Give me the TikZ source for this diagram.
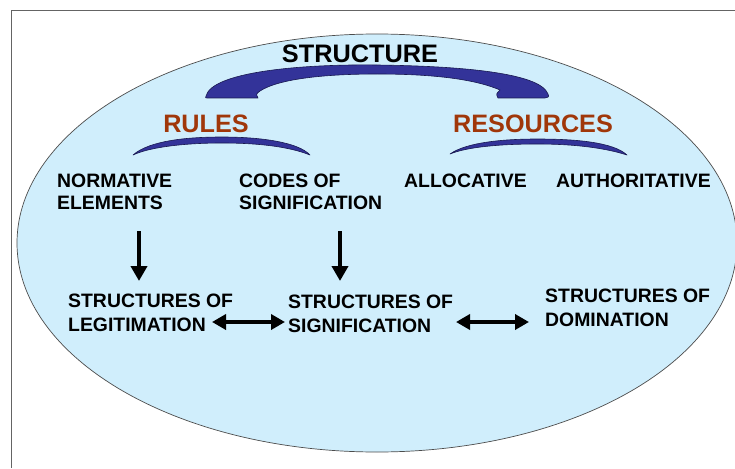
\documentclass[tikz,border=0pt]{standalone}
\usepackage{fontspec}
\setmainfont{Liberation Sans}
\usetikzlibrary{arrows.meta}
\definecolor{ellfill}{RGB}{208,238,252}
\definecolor{bandblue}{RGB}{51,51,153}
\definecolor{banddark}{RGB}{25,25,80}
\definecolor{rulebrown}{RGB}{160,55,10}
\definecolor{framegray}{RGB}{100,100,100}
\tikzset{
  lbl/.style={inner sep=0pt, anchor=north west, align=left, text=black,
    font=\fontsize{19.4}{21.5}\selectfont\bfseries},
  lbltwo/.style={lbl, font=\fontsize{19.4}{23.5}\selectfont\bfseries},
  headtxt/.style={inner sep=0pt, anchor=base, font=\fontsize{25.2}{28}\selectfont\bfseries, text=rulebrown},
  band/.style={fill=bandblue, draw=banddark, line width=0.6pt, line join=round},
  downarrow/.style={line width=4.8pt, -{Triangle[length=15pt,width=16pt]}},
  twoarrow/.style={line width=4.2pt, {Triangle[length=14pt,width=15pt]}-{Triangle[length=14pt,width=15pt]}}
}
\begin{document}
\begin{tikzpicture}[x=1pt,y=-1pt]
\useasboundingbox (0,0) rectangle (735,468);
\fill[white] (0,0) rectangle (735,468);
% frame
\draw[framegray, line width=1pt] (11,468) -- (11,11) -- (735,11);
% ellipse
\draw[fill=ellfill, draw=black!70, line width=0.7pt] (377,243) ellipse [x radius=360pt, y radius=209pt];
% big band
\path[band] (206,96) .. controls (212,72) and (300,64) .. (377,65)
  .. controls (455,66) and (540,72) .. (548,94)
  .. controls (549,97) .. (545,98) -- (498,98)
  .. controls (496,94) .. (500,90)
  .. controls (470,77) and (420,74) .. (377,74)
  .. controls (330,74) and (280,78) .. (260,91)
  .. controls (256,94) .. (258,98) -- (209,98)
  .. controls (205,98) .. (206,96) -- cycle;
% rules band
\path[band] (133,155) .. controls (150,140) and (190,137) .. (222,137)
  .. controls (260,137) and (298,142) .. (310,155)
  .. controls (290,147) and (260,143) .. (222,143)
  .. controls (185,143) and (150,147) .. (133,155) -- cycle;
% resources band
\path[band] (450,154) .. controls (467,142) and (505,139) .. (537,139)
  .. controls (575,139) and (613,142) .. (627,155)
  .. controls (605,148) and (575,144) .. (537,144)
  .. controls (500,144) and (467,147) .. (450,154) -- cycle;
% headings
\node[headtxt, text=black, font=\fontsize{25.3}{28}\selectfont\bfseries] (structure) at (360,63) {STRUCTURE};
\node[headtxt] (rules) at (206,132) {RULES};
\node[headtxt] (resources) at (533,132) {RESOURCES};
% labels
\node[lbl] (norm) at (57,174) {NORMATIVE\\ELEMENTS};
\node[lbl] (codes) at (239,174) {CODES OF\\SIGNIFICATION};
\node[lbl] (alloc) at (404,174) {ALLOCATIVE};
\node[lbl] (auth) at (556,174) {AUTHORITATIVE};
\node[lbltwo] (legit) at (68,294) {STRUCTURES OF\\LEGITIMATION};
\node[lbltwo] (signif) at (288,295) {STRUCTURES OF\\SIGNIFICATION};
\node[lbltwo] (domin) at (545,289) {STRUCTURES OF\\DOMINATION};
% connectors
\coordinate (d1s) at (139,231);
\coordinate (d1e) at (139,281);
\coordinate (d2s) at (340,231);
\coordinate (d2e) at (340,281);
\coordinate (h1s) at (212,322);
\coordinate (h1e) at (285,322);
\coordinate (h2s) at (456,322);
\coordinate (h2e) at (529,322);
\draw[downarrow] (d1s) -- (d1e);
\draw[downarrow] (d2s) -- (d2e);
\draw[twoarrow] (h1s) -- (h1e);
\draw[twoarrow] (h2s) -- (h2e);
\end{tikzpicture}
\end{document}
